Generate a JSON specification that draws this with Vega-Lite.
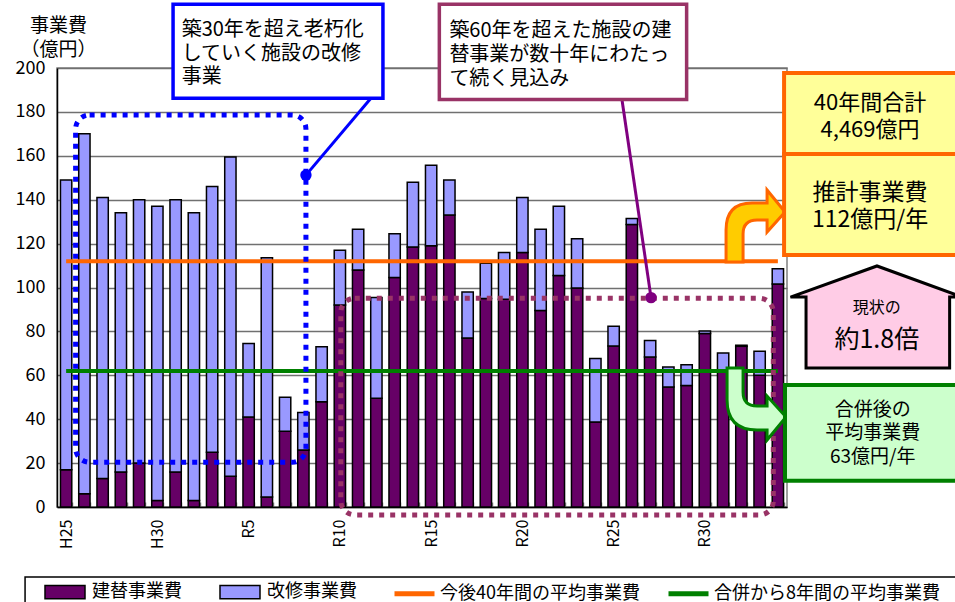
{
  "$schema": "https://vega.github.io/schema/vega-lite/v6.json",
  "width": 730,
  "height": 439,
  "autosize": {"type": "none"},
  "padding": {"left": 57, "top": 68, "right": 168, "bottom": 95},
  "background": "white",
  "config": {
    "font": "Noto Sans CJK JP",
    "view": {"stroke": "#808080", "strokeWidth": 1.5},
    "axis": {"labelFont": "Noto Sans CJK JP", "titleFont": "Noto Sans CJK JP", "labelColor": "black", "titleColor": "black"},
    "legend": {"labelFont": "Noto Sans CJK JP", "labelColor": "black", "labelFontSize": 18, "labelLimit": 400}
  },
  "datasets": {
    "costs": [
      {"year": "H25", "type": "建替事業費", "value": 17}, {"year": "H25", "type": "改修事業費", "value": 132},
      {"year": "H26", "type": "建替事業費", "value": 6}, {"year": "H26", "type": "改修事業費", "value": 164},
      {"year": "H27", "type": "建替事業費", "value": 13}, {"year": "H27", "type": "改修事業費", "value": 128},
      {"year": "H28", "type": "建替事業費", "value": 16}, {"year": "H28", "type": "改修事業費", "value": 118},
      {"year": "H29", "type": "建替事業費", "value": 20}, {"year": "H29", "type": "改修事業費", "value": 120},
      {"year": "H30", "type": "建替事業費", "value": 3}, {"year": "H30", "type": "改修事業費", "value": 134},
      {"year": "R1", "type": "建替事業費", "value": 16}, {"year": "R1", "type": "改修事業費", "value": 124},
      {"year": "R2", "type": "建替事業費", "value": 3}, {"year": "R2", "type": "改修事業費", "value": 131},
      {"year": "R3", "type": "建替事業費", "value": 25}, {"year": "R3", "type": "改修事業費", "value": 121},
      {"year": "R4", "type": "建替事業費", "value": 14}, {"year": "R4", "type": "改修事業費", "value": 145.5},
      {"year": "R5", "type": "建替事業費", "value": 41}, {"year": "R5", "type": "改修事業費", "value": 33.5},
      {"year": "R6", "type": "建替事業費", "value": 4.5}, {"year": "R6", "type": "改修事業費", "value": 109},
      {"year": "R7", "type": "建替事業費", "value": 34.5}, {"year": "R7", "type": "改修事業費", "value": 15.5},
      {"year": "R8", "type": "建替事業費", "value": 26}, {"year": "R8", "type": "改修事業費", "value": 17},
      {"year": "R9", "type": "建替事業費", "value": 48}, {"year": "R9", "type": "改修事業費", "value": 25},
      {"year": "R10", "type": "建替事業費", "value": 92}, {"year": "R10", "type": "改修事業費", "value": 25},
      {"year": "R11", "type": "建替事業費", "value": 108}, {"year": "R11", "type": "改修事業費", "value": 18.5},
      {"year": "R12", "type": "建替事業費", "value": 49.5}, {"year": "R12", "type": "改修事業費", "value": 46},
      {"year": "R13", "type": "建替事業費", "value": 104.5}, {"year": "R13", "type": "改修事業費", "value": 20},
      {"year": "R14", "type": "建替事業費", "value": 118.5}, {"year": "R14", "type": "改修事業費", "value": 29.5},
      {"year": "R15", "type": "建替事業費", "value": 119}, {"year": "R15", "type": "改修事業費", "value": 36.7},
      {"year": "R16", "type": "建替事業費", "value": 133}, {"year": "R16", "type": "改修事業費", "value": 16},
      {"year": "R17", "type": "建替事業費", "value": 77}, {"year": "R17", "type": "改修事業費", "value": 21},
      {"year": "R18", "type": "建替事業費", "value": 95}, {"year": "R18", "type": "改修事業費", "value": 16},
      {"year": "R19", "type": "建替事業費", "value": 94.6}, {"year": "R19", "type": "改修事業費", "value": 21.4},
      {"year": "R20", "type": "建替事業費", "value": 116}, {"year": "R20", "type": "改修事業費", "value": 25},
      {"year": "R21", "type": "建替事業費", "value": 89.5}, {"year": "R21", "type": "改修事業費", "value": 37},
      {"year": "R22", "type": "建替事業費", "value": 105.5}, {"year": "R22", "type": "改修事業費", "value": 31.5},
      {"year": "R23", "type": "建替事業費", "value": 99.8}, {"year": "R23", "type": "改修事業費", "value": 22.4},
      {"year": "R24", "type": "建替事業費", "value": 38.7}, {"year": "R24", "type": "改修事業費", "value": 29},
      {"year": "R25", "type": "建替事業費", "value": 73.3}, {"year": "R25", "type": "改修事業費", "value": 9},
      {"year": "R26", "type": "建替事業費", "value": 128.7}, {"year": "R26", "type": "改修事業費", "value": 2.7},
      {"year": "R27", "type": "建替事業費", "value": 68.3}, {"year": "R27", "type": "改修事業費", "value": 7.6},
      {"year": "R28", "type": "建替事業費", "value": 54.7}, {"year": "R28", "type": "改修事業費", "value": 9.1},
      {"year": "R29", "type": "建替事業費", "value": 55.3}, {"year": "R29", "type": "改修事業費", "value": 9.5},
      {"year": "R30", "type": "建替事業費", "value": 79}, {"year": "R30", "type": "改修事業費", "value": 1.2},
      {"year": "R31", "type": "建替事業費", "value": 62}, {"year": "R31", "type": "改修事業費", "value": 8.2},
      {"year": "R32", "type": "建替事業費", "value": 73.2}, {"year": "R32", "type": "改修事業費", "value": 0.5},
      {"year": "R33", "type": "建替事業費", "value": 60}, {"year": "R33", "type": "改修事業費", "value": 10.9},
      {"year": "R34", "type": "建替事業費", "value": 101.6}, {"year": "R34", "type": "改修事業費", "value": 6.9}
    ],
    "averages": [
      {"type": "今後40年間の平均事業費", "value": 112},
      {"type": "合併から8年間の平均事業費", "value": 62}
    ]
  },
  "resolve": {"scale": {"x": "independent"}},
  "layer": [
    {
      "layer": [
        {
          "data": {"name": "costs"},
          "mark": {"type": "bar", "stroke": "black", "strokeWidth": 1.5},
          "encoding": {
            "x": {
              "field": "year", "type": "ordinal", "sort": null,
              "scale": {"paddingInner": 0.38, "paddingOuter": 0.19},
              "axis": {
                "title": null, "labelAngle": -90, "labelFontSize": 16, "labelPadding": 17,
                "labelExpr": "indexof(['H25','H30','R5','R10','R15','R20','R25','R30'], datum.value) >= 0 ? datum.value : ''",
                "tickBand": "extent", "tickSize": -5, "tickColor": "#808080", "tickWidth": 1.5,
                "domainColor": "black", "domainWidth": 1.5
              }
            },
            "y": {
              "field": "value", "type": "quantitative", "stack": "zero",
              "scale": {"domain": [0, 200], "nice": false},
              "axis": {
                "values": [0, 20, 40, 60, 80, 100, 120, 140, 160, 180, 200],
                "labelFontSize": 18, "labelPadding": 12, "ticks": false,
                "domainColor": "black", "domainWidth": 1.5,
                "gridColor": "#707070", "gridWidth": 1.5,
                "title": ["事業費", "（億円）"], "titleAngle": 0, "titleAlign": "center",
                "titleBaseline": "top", "titleX": 1, "titleY": -52, "titleFontSize": 19,
                "titleFontWeight": "normal", "titleLineHeight": 24
              }
            },
            "order": {"field": "type", "sort": "ascending"},
            "fill": {
              "field": "type", "type": "nominal",
              "scale": {"domain": ["建替事業費", "改修事業費"], "range": ["#660066", "#9999ff"]},
              "legend": {
                "title": null, "orient": "none", "direction": "horizontal",
                "legendX": -13, "legendY": 503, "padding": 0,
                "symbolType": "M-1,-0.33H1V0.33H-1Z", "symbolSize": 1600,
                "symbolStrokeColor": "black", "symbolStrokeWidth": 1.5,
                "labelOffset": 6, "columnPadding": 35
              }
            }
          }
        },
        {
          "data": {"name": "averages"},
          "mark": {"type": "rule", "strokeWidth": 4},
          "encoding": {
            "x": {"datum": "H25"},
            "x2": {"datum": "R34"},
            "y": {"field": "value", "type": "quantitative", "scale": {"domain": [0, 200], "nice": false}},
            "color": {
              "field": "type", "type": "nominal",
              "scale": {"domain": ["今後40年間の平均事業費", "合併から8年間の平均事業費"], "range": ["#ff6600", "#008000"]},
              "legend": {
                "title": null, "orient": "none", "direction": "horizontal",
                "legendX": 335, "legendY": 503, "padding": 0,
                "symbolType": "stroke", "symbolSize": 1600, "symbolStrokeWidth": 5,
                "labelOffset": 3, "columnPadding": 18
              }
            }
          }
        }
      ]
    },
    {
      "data": {"values": [{}]},
      "layer": [
        {
          "mark": {"type": "rect", "fill": null, "fillOpacity": 0, "stroke": "black", "strokeWidth": 1.5},
          "encoding": {
            "x": {"datum": -1.75, "type": "quantitative", "scale": {"domain": [0, 40], "nice": false, "zero": false}, "axis": null},
            "x2": {"datum": 50.5},
            "y": {"datum": -31.9, "type": "quantitative", "scale": {"domain": [0, 200], "nice": false}},
            "y2": {"datum": -52}
          }
        },
        {
          "mark": {"type": "rect", "fill": null, "fillOpacity": 0, "stroke": "#0000ff", "strokeWidth": 5, "strokeDash": [5, 6], "cornerRadius": 14},
          "encoding": {
            "x": {"datum": 1.02, "type": "quantitative"},
            "x2": {"datum": 13.64},
            "y": {"datum": 178.6, "type": "quantitative"},
            "y2": {"datum": 20.4}
          }
        },
        {
          "mark": {"type": "rect", "fill": null, "fillOpacity": 0, "stroke": "#993366", "strokeWidth": 5, "strokeDash": [5, 6], "cornerRadius": 14},
          "encoding": {
            "x": {"datum": 15.55, "type": "quantitative"},
            "x2": {"datum": 39.25},
            "y": {"datum": 95.1, "type": "quantitative"},
            "y2": {"datum": -3.6}
          }
        },
        {
          "mark": {"type": "rule", "stroke": "#0000ff", "strokeWidth": 3},
          "encoding": {
            "x": {"datum": 17.2, "type": "quantitative"},
            "x2": {"datum": 13.64},
            "y": {"datum": 186.2, "type": "quantitative"},
            "y2": {"datum": 151.2}
          }
        },
        {
          "mark": {"type": "point", "filled": true, "fill": "#0000ff", "opacity": 1, "size": 130},
          "encoding": {
            "x": {"datum": 13.64, "type": "quantitative"},
            "y": {"datum": 151.2, "type": "quantitative"}
          }
        },
        {
          "mark": {"type": "rule", "stroke": "#800080", "strokeWidth": 3},
          "encoding": {
            "x": {"datum": 30.96, "type": "quantitative"},
            "x2": {"datum": 32.55},
            "y": {"datum": 185.4, "type": "quantitative"},
            "y2": {"datum": 95.4}
          }
        },
        {
          "mark": {"type": "point", "filled": true, "fill": "#800080", "opacity": 1, "size": 130},
          "encoding": {
            "x": {"datum": 32.55, "type": "quantitative"},
            "y": {"datum": 95.4, "type": "quantitative"}
          }
        },
        {
          "mark": {"type": "rect", "fill": "white", "stroke": "#0000ff", "strokeWidth": 3.5},
          "encoding": {
            "x": {"datum": 6.36, "type": "quantitative"},
            "x2": {"datum": 17.86},
            "y": {"datum": 229.0, "type": "quantitative"},
            "y2": {"datum": 186.2}
          }
        },
        {
          "mark": {"type": "text", "text": ["築30年を超え老朽化", "していく施設の改修", "事業"], "align": "left", "baseline": "middle", "fontSize": 20, "lineHeight": 23.5, "color": "black"},
          "encoding": {
            "x": {"datum": 6.83, "type": "quantitative"},
            "y": {"datum": 217.3, "type": "quantitative"}
          }
        },
        {
          "mark": {"type": "rect", "fill": "white", "stroke": "#993366", "strokeWidth": 3.5},
          "encoding": {
            "x": {"datum": 20.95, "type": "quantitative"},
            "x2": {"datum": 34.5},
            "y": {"datum": 229.0, "type": "quantitative"},
            "y2": {"datum": 185.6}
          }
        },
        {
          "mark": {"type": "text", "text": ["築60年を超えた施設の建", "替事業が数十年にわたっ", "て続く見込み"], "align": "left", "baseline": "middle", "fontSize": 20, "lineHeight": 24, "color": "black"},
          "encoding": {
            "x": {"datum": 21.5, "type": "quantitative"},
            "y": {"datum": 216.9, "type": "quantitative"}
          }
        },
        {
          "mark": {"type": "point", "shape": "M-0.967,1.2L-0.967,0.133Q-0.967,-0.767,-0.1,-0.767L0.4,-0.767L0.4,-1.2L1.0,-0.467L0.4,0.2L0.4,-0.2L0.067,-0.2Q-0.4,-0.2,-0.4,0.267L-0.4,1.2Z", "filled": true, "fill": "#ffcc00", "stroke": "#ff6600", "strokeWidth": 3, "opacity": 1, "size": 3600},
          "encoding": {
            "x": {"datum": 38.25, "type": "quantitative"},
            "y": {"datum": 128.0, "type": "quantitative"}
          }
        },
        {
          "mark": {"type": "point", "shape": "M-0.933,-1.2L-0.933,-0.133Q-0.933,0.867,0.067,0.867L0.4,0.867L0.4,1.2L1.033,0.433L0.4,-0.267L0.4,0.067L0.067,0.067Q-0.4,0.067,-0.4,-0.4L-0.4,-1.2Z", "filled": true, "fill": "#ccffcc", "stroke": "#008000", "strokeWidth": 3, "opacity": 1, "size": 3600},
          "encoding": {
            "x": {"datum": 38.25, "type": "quantitative"},
            "y": {"datum": 46.9, "type": "quantitative"}
          }
        },
        {
          "mark": {"type": "rect", "fill": "#ffff99", "stroke": "#ff6600", "strokeWidth": 4},
          "encoding": {
            "x": {"datum": 39.84, "type": "quantitative"},
            "x2": {"datum": 50.3},
            "y": {"datum": 197.7, "type": "quantitative"},
            "y2": {"datum": 160.8}
          }
        },
        {
          "mark": {"type": "rect", "fill": "#ffff99", "stroke": "#ff6600", "strokeWidth": 4},
          "encoding": {
            "x": {"datum": 39.84, "type": "quantitative"},
            "x2": {"datum": 50.3},
            "y": {"datum": 160.8, "type": "quantitative"},
            "y2": {"datum": 114.8}
          }
        },
        {
          "mark": {"type": "text", "text": ["40年間合計", "4,469億円"], "align": "center", "baseline": "middle", "fontSize": 22, "lineHeight": 27, "color": "black"},
          "encoding": {
            "x": {"datum": 44.55, "type": "quantitative"},
            "y": {"datum": 184.1, "type": "quantitative"}
          }
        },
        {
          "mark": {"type": "text", "text": ["推計事業費", "112億円/年"], "align": "center", "baseline": "middle", "fontSize": 23, "lineHeight": 27, "color": "black"},
          "encoding": {
            "x": {"datum": 44.55, "type": "quantitative"},
            "y": {"datum": 143.1, "type": "quantitative"}
          }
        },
        {
          "mark": {"type": "point", "shape": "M-0.82,0.59L-0.82,-0.23L-1,-0.23L0,-0.59L0.99,-0.23L0.84,-0.23L0.84,0.59Z", "filled": true, "fill": "#ffcce6", "stroke": "black", "strokeWidth": 3, "opacity": 1, "size": 29929},
          "encoding": {
            "x": {"datum": 44.93, "type": "quantitative"},
            "y": {"datum": 86.56, "type": "quantitative"}
          }
        },
        {
          "mark": {"type": "text", "text": "現状の", "align": "center", "baseline": "middle", "fontSize": 16, "color": "black"},
          "encoding": {
            "x": {"datum": 44.92, "type": "quantitative"},
            "y": {"datum": 90.65, "type": "quantitative"}
          }
        },
        {
          "mark": {"type": "text", "text": "約1.8倍", "align": "center", "baseline": "middle", "fontSize": 25, "color": "black"},
          "encoding": {
            "x": {"datum": 44.92, "type": "quantitative"},
            "y": {"datum": 76.1, "type": "quantitative"}
          }
        },
        {
          "mark": {"type": "rect", "fill": "#ccffcc", "stroke": "#008000", "strokeWidth": 4},
          "encoding": {
            "x": {"datum": 39.89, "type": "quantitative"},
            "x2": {"datum": 50.3},
            "y": {"datum": 55.6, "type": "quantitative"},
            "y2": {"datum": 12.0}
          }
        },
        {
          "mark": {"type": "text", "text": ["合併後の", "平均事業費", "63億円/年"], "align": "center", "baseline": "middle", "fontSize": 19, "lineHeight": 23.5, "color": "black"},
          "encoding": {
            "x": {"datum": 44.7, "type": "quantitative"},
            "y": {"datum": 44.2, "type": "quantitative"}
          }
        }
      ]
    }
  ]
}
